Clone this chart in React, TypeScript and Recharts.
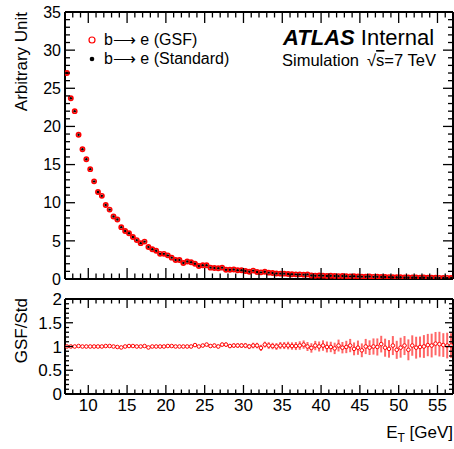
import { ScatterChart, Scatter, XAxis, YAxis, ErrorBar } from 'recharts';

const FONT = '"Liberation Sans", Arial, Helvetica, sans-serif';

// E_T bin centres [GeV], 0.5 GeV bins
const binCentres = [
  7.25, 7.75, 8.25, 8.75, 9.25, 9.75, 10.25, 10.75, 11.25, 11.75,
  12.25, 12.75, 13.25, 13.75, 14.25, 14.75, 15.25, 15.75, 16.25, 16.75,
  17.25, 17.75, 18.25, 18.75, 19.25, 19.75, 20.25, 20.75, 21.25, 21.75,
  22.25, 22.75, 23.25, 23.75, 24.25, 24.75, 25.25, 25.75, 26.25, 26.75,
  27.25, 27.75, 28.25, 28.75, 29.25, 29.75, 30.25, 30.75, 31.25, 31.75,
  32.25, 32.75, 33.25, 33.75, 34.25, 34.75, 35.25, 35.75, 36.25, 36.75,
  37.25, 37.75, 38.25, 38.75, 39.25, 39.75, 40.25, 40.75, 41.25, 41.75,
  42.25, 42.75, 43.25, 43.75, 44.25, 44.75, 45.25, 45.75, 46.25, 46.75,
  47.25, 47.75, 48.25, 48.75, 49.25, 49.75, 50.25, 50.75, 51.25, 51.75,
  52.25, 52.75, 53.25, 53.75, 54.25, 54.75, 55.25, 55.75, 56.25, 56.75,
];

// b -> e (GSF), arbitrary units
const gsfYield = [
  27.0, 23.7, 22.0, 18.9, 17.0, 15.7, 14.4, 12.8, 11.4, 10.9,
  9.7, 9.1, 8.2, 7.8, 6.8, 6.3, 6.0, 5.5, 5.1, 4.7,
  4.9, 4.2, 3.9, 3.7, 3.3, 3.3, 3.1, 2.8, 2.5, 2.5,
  2.1, 2.3, 2.2, 2.0, 1.7, 1.8, 1.8, 1.49, 1.45, 1.4,
  1.49, 1.22, 1.22, 1.25, 1.14, 1.14, 1.05, 0.96, 1.1, 0.92,
  0.87, 0.96, 0.83, 0.79, 0.72, 0.7, 0.7, 0.66, 0.62, 0.61,
  0.61, 0.57, 0.6, 0.46, 0.42, 0.45, 0.44, 0.4, 0.42, 0.4,
  0.38, 0.4, 0.36, 0.35, 0.37, 0.33, 0.31, 0.3, 0.32, 0.28,
  0.29, 0.26, 0.27, 0.25, 0.24, 0.22, 0.24, 0.21, 0.2, 0.21,
  0.19, 0.18, 0.19, 0.17, 0.16, 0.17, 0.15, 0.14, 0.15, 0.13,
];

// b -> e (Standard): indistinguishable from GSF on the plot
const stdYield = gsfYield;

// GSF / Standard ratio and its uncertainty
const ratio = [
  1.0, 1.0, 1.0, 1.01, 1.0, 1.0, 1.0, 1.0, 1.0, 1.0,
  1.01, 1.01, 1.0, 0.99, 0.98, 1.0, 1.01, 1.01, 1.0, 1.0,
  1.01, 0.98, 1.0, 1.0, 1.0, 1.0, 1.01, 1.01, 1.0, 1.0,
  1.0, 1.0, 1.0, 1.03, 1.0, 1.02, 1.04, 1.01, 1.02, 1.0,
  1.04, 1.04, 1.01, 1.02, 1.02, 1.02, 1.02, 1.0, 1.02, 1.02,
  0.97, 1.04, 1.02, 1.01, 1.0, 1.02, 1.02, 1.02, 1.01, 1.01,
  1.02, 1.04, 1.0, 0.97, 1.02, 1.0, 1.02, 0.99, 0.99, 0.96,
  1.02, 0.975, 0.99, 1.02, 0.95, 0.975, 0.92, 1.0, 0.975, 1.0,
  0.99, 1.05, 0.975, 0.95, 1.02, 0.93, 0.975, 1.02, 0.93, 1.02,
  0.975, 0.99, 1.0, 1.03, 1.02, 1.06, 1.05, 1.03, 1.02, 1.02,
];
const ratioErr = [
  0.01, 0.01, 0.01, 0.01, 0.01, 0.01, 0.01, 0.01, 0.01, 0.01,
  0.01, 0.01, 0.012, 0.012, 0.013, 0.013, 0.014, 0.014, 0.015, 0.015,
  0.016, 0.017, 0.018, 0.018, 0.02, 0.021, 0.022, 0.023, 0.024, 0.025,
  0.026, 0.028, 0.03, 0.03, 0.032, 0.034, 0.036, 0.035, 0.04, 0.038,
  0.042, 0.045, 0.044, 0.048, 0.05, 0.052, 0.055, 0.054, 0.06, 0.058,
  0.065, 0.062, 0.07, 0.068, 0.072, 0.075, 0.074, 0.08, 0.078, 0.085,
  0.09, 0.088, 0.095, 0.1, 0.098, 0.105, 0.11, 0.115, 0.11, 0.12,
  0.125, 0.12, 0.13, 0.14, 0.135, 0.15, 0.145, 0.16, 0.155, 0.17,
  0.18, 0.175, 0.19, 0.185, 0.2, 0.19, 0.21, 0.2, 0.22, 0.215,
  0.23, 0.22, 0.24, 0.235, 0.25, 0.245, 0.26, 0.25, 0.27, 0.26,
];

const xDomain = [7, 57];
const xTicks = Array.from({ length: 51 }, (_, i) => 7 + i);
const yTicks = Array.from({ length: 36 }, (_, i) => i);
const rTicks = Array.from({ length: 21 }, (_, i) => i / 10);

const gsfPoints = binCentres.map((x, i) => ({ x, y: gsfYield[i] }));
const stdPoints = binCentres.map((x, i) => ({ x, y: stdYield[i] }));
const ratioPoints = binCentres.map((x, i) => ({ x, y: ratio[i], ey: ratioErr[i], ex: 0.25 }));

const onStep = (v: number, step: number) => Math.abs(v / step - Math.round(v / step)) < 1e-6;

type Side = 'bottom' | 'top' | 'left' | 'right';

// ROOT-style inward ticks, optional label
function makeTick(side: Side, step: number, majLen: number, minLen: number, label?: { size: number; off: number }) {
  return (props: any) => {
    const { x, y, payload } = props;
    const v = payload.value as number;
    const major = onStep(v, step);
    const len = major ? majLen : minLen;
    let x2 = x, y2 = y;
    if (side === 'bottom') y2 = y - len;
    if (side === 'top') y2 = y + len;
    if (side === 'left') x2 = x + len;
    if (side === 'right') x2 = x - len;
    let txt = null;
    if (label && major) {
      const s = String(v);
      txt = side === 'bottom'
        ? <text x={x} y={y + label.off} textAnchor="middle" fontSize={label.size} fontFamily={FONT} fill="#000">{s}</text>
        : <text x={x - label.off} y={y} dy="0.36em" textAnchor="end" fontSize={label.size} fontFamily={FONT} fill="#000">{s}</text>;
    }
    return (
      <g>
        <line x1={x} y1={y} x2={x2} y2={y2} stroke="#000" strokeWidth={1.3} />
        {txt}
      </g>
    );
  };
}

const frame = { stroke: '#000', strokeWidth: 2 };

const openRed = (p: any) => <circle cx={p.cx} cy={p.cy} r={2.1} fill="none" stroke="#ff0000" strokeWidth={1.7} />;
const blackDot = (p: any) => <circle cx={p.cx} cy={p.cy} r={1.2} fill="#000" />;
const ratioMarker = (p: any) => <circle cx={p.cx} cy={p.cy} r={1.8} fill="#fff" stroke="#ff0000" strokeWidth={1} />;

export default function App() {
  return (
    <div style={{ position: 'absolute', left: 0, top: 0, width: 454, height: 449, background: '#fff', overflow: 'hidden' }}>
      <div style={{ position: 'absolute', left: 0, top: 0 }}>
        <ScatterChart width={454} height={290} margin={{ top: 11, right: 0, bottom: 10, left: 64 }}>
          <XAxis xAxisId="b" type="number" dataKey="x" domain={xDomain} ticks={xTicks} interval={0} height={1}
            tickSize={0} tickMargin={0} axisLine={frame} tickLine={false} allowDataOverflow tick={makeTick('bottom', 5, 11, 5.5)} />
          <XAxis xAxisId="t" orientation="top" type="number" dataKey="x" domain={xDomain} ticks={xTicks} interval={0} height={1}
            tickSize={0} tickMargin={0} axisLine={frame} tickLine={false} allowDataOverflow tick={makeTick('top', 5, 11, 5.5)} />
          <YAxis yAxisId="l" type="number" dataKey="y" domain={[0, 35]} ticks={yTicks} interval={0} width={1}
            tickSize={0} tickMargin={0} axisLine={frame} tickLine={false} allowDataOverflow
            tick={makeTick('left', 5, 10, 5, { size: 16, off: 4 })} />
          <YAxis yAxisId="r" orientation="right" type="number" dataKey="y" domain={[0, 35]} ticks={yTicks} interval={0} width={1}
            tickSize={0} tickMargin={0} axisLine={frame} tickLine={false} allowDataOverflow tick={makeTick('right', 5, 10, 5)} />
          <Scatter name="b→ e (GSF)" data={gsfPoints} xAxisId="b" yAxisId="l" shape={openRed} isAnimationActive={false} />
          <Scatter name="b→ e (Standard)" data={stdPoints} xAxisId="b" yAxisId="l" shape={blackDot} isAnimationActive={false} />
        </ScatterChart>
      </div>
      <div style={{ position: 'absolute', left: 0, top: 290 }}>
        <ScatterChart width={454} height={159} margin={{ top: 8, right: 0, bottom: 54, left: 64 }}>
          <XAxis xAxisId="b" type="number" dataKey="x" domain={xDomain} ticks={xTicks} interval={0} height={1}
            tickSize={0} tickMargin={0} axisLine={frame} tickLine={false} allowDataOverflow
            tick={makeTick('bottom', 5, 9, 4.5, { size: 17, off: 17 })} />
          <XAxis xAxisId="t" orientation="top" type="number" dataKey="x" domain={xDomain} ticks={xTicks} interval={0} height={1}
            tickSize={0} tickMargin={0} axisLine={frame} tickLine={false} allowDataOverflow tick={makeTick('top', 5, 9, 4.5)} />
          <YAxis yAxisId="l" type="number" dataKey="y" domain={[0, 2]} ticks={rTicks} interval={0} width={1}
            tickSize={0} tickMargin={0} axisLine={frame} tickLine={false} allowDataOverflow
            tick={makeTick('left', 0.5, 8, 4, { size: 17, off: 3 })} />
          <YAxis yAxisId="r" orientation="right" type="number" dataKey="y" domain={[0, 2]} ticks={rTicks} interval={0} width={1}
            tickSize={0} tickMargin={0} axisLine={frame} tickLine={false} allowDataOverflow tick={makeTick('right', 0.5, 8, 4)} />
          <Scatter name="GSF/Std" data={ratioPoints} xAxisId="b" yAxisId="l" shape={ratioMarker} isAnimationActive={false}>
            <ErrorBar dataKey="ey" direction="y" width={0} stroke="#ff4040" strokeWidth={2} strokeOpacity={0.8} />
            <ErrorBar dataKey="ex" direction="x" width={0} stroke="#ff0000" strokeWidth={1.2} />
          </Scatter>
        </ScatterChart>
      </div>
      <svg width={454} height={449} style={{ position: 'absolute', left: 0, top: 0, pointerEvents: 'none' }} fontFamily={FONT}>
        <text x={27} y={12} transform="rotate(-90 27 12)" textAnchor="end" fontSize={17}>Arbitrary Unit</text>
        <text x={27} y={298} transform="rotate(-90 27 298)" textAnchor="end" fontSize={17}>GSF/Std</text>
        <text x={453} y={438} textAnchor="end" fontSize={17}>
          E<tspan dy={4} fontSize={12}>T</tspan><tspan dy={-4}> [GeV]</tspan>
        </text>
        <circle cx={92} cy={40} r={3} fill="none" stroke="#ff0000" strokeWidth={1.2} />
        <text x={104} y={45} fontSize={16}>b⟶ e (GSF)</text>
        <circle cx={92} cy={59} r={2.3} fill="#000" />
        <text x={104} y={64} fontSize={16}>b⟶ e (Standard)</text>
        <text x={283} y={45} fontSize={22}>
          <tspan fontWeight="bold" fontStyle="italic">ATLAS</tspan><tspan> Internal</tspan>
        </text>
        <text x={282} y={66} fontSize={16.5}>
          Simulation<tspan dx={8}>√</tspan><tspan textDecoration="overline">s</tspan>=7 TeV
        </text>
      </svg>
    </div>
  );
}
